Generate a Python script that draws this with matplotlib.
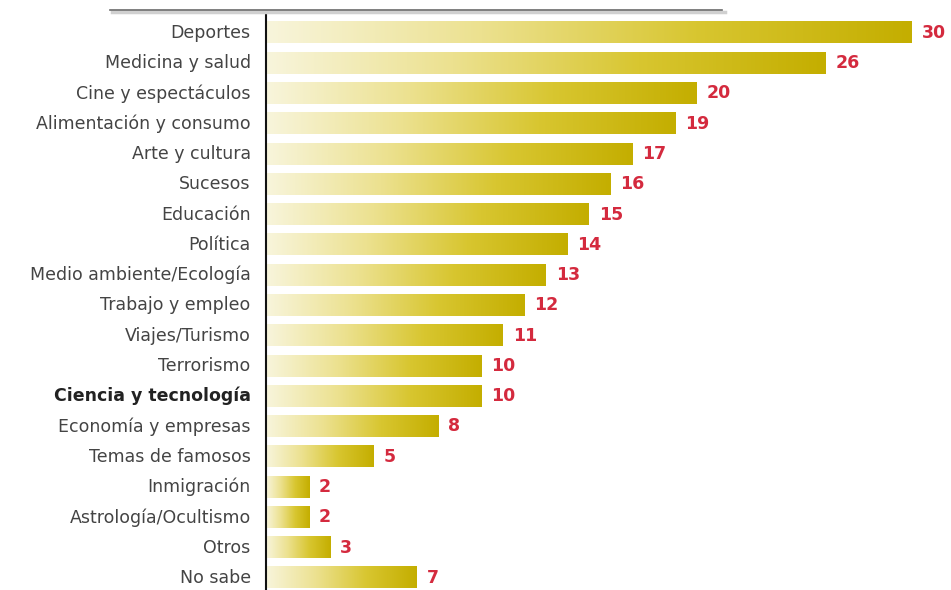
import numpy as np
import matplotlib.pyplot as plt
from matplotlib.colors import LinearSegmentedColormap
from matplotlib.lines import Line2D

categories = ['Deportes', 'Medicina y salud', 'Cine y espectáculos',
              'Alimentación y consumo', 'Arte y cultura', 'Sucesos',
              'Educación', 'Política', 'Medio ambiente/Ecología',
              'Trabajo y empleo', 'Viajes/Turismo', 'Terrorismo',
              'Ciencia y tecnología', 'Economía y empresas',
              'Temas de famosos', 'Inmigración', 'Astrología/Ocultismo',
              'Otros', 'No sabe']
values = [30, 26, 20, 19, 17, 16, 15, 14, 13, 12, 11, 10, 10, 8, 5, 2, 2, 3, 7]
highlight = 'Ciencia y tecnología'

plt.rcParams['font.family'] = ['DejaVu Sans']

cmap = LinearSegmentedColormap.from_list(
    'gold', ['#f8f5dc', '#ece18f', '#d8c630', '#c4ae00'])

fig = plt.figure(figsize=(9.51, 5.90), dpi=100)
ax = fig.add_axes([266 / 951, 0, 685 / 951, 1 - 15 / 590])

bar_h = 0.7
grad = np.linspace(0, 1, 256).reshape(1, -1)
y = np.arange(len(categories))
for yi, v in zip(y, values):
    ax.imshow(grad, cmap=cmap, aspect='auto', interpolation='bicubic',
              extent=[0, v, yi + bar_h / 2, yi - bar_h / 2], zorder=2)
    ax.annotate(str(v), xy=(v, yi), xytext=(7, 0), textcoords='offset points',
                ha='left', va='center', color='#d42a3e', fontsize=12.5,
                fontweight='bold')

ax.set_xlim(0, 30 * 685 / (912 - 266))
ax.set_ylim(len(categories) - 1 + 0.4, -0.59)
ax.set_yticks(y)
ax.set_yticklabels(categories, fontsize=12.5, color='#444444', va='center')
for lab in ax.get_yticklabels():
    if lab.get_text() == highlight:
        lab.set_fontweight('bold')
        lab.set_color('#222222')
ax.tick_params(axis='y', length=0, pad=11)
ax.set_xticks([])
for side in ['top', 'right', 'bottom']:
    ax.spines[side].set_visible(False)
ax.spines['left'].set_linewidth(1.5)
ax.spines['left'].set_color('#111111')

# decorative rule across the top
fig.add_artist(Line2D([112 / 951, 725 / 951], [1 - 12 / 590, 1 - 12 / 590],
                      color='#d0d0d0', linewidth=2.5))
fig.add_artist(Line2D([110 / 951, 722 / 951], [1 - 10 / 590, 1 - 10 / 590],
                      color='#6a6a6a', linewidth=1.2))

fig.savefig('out.png', dpi=100)
